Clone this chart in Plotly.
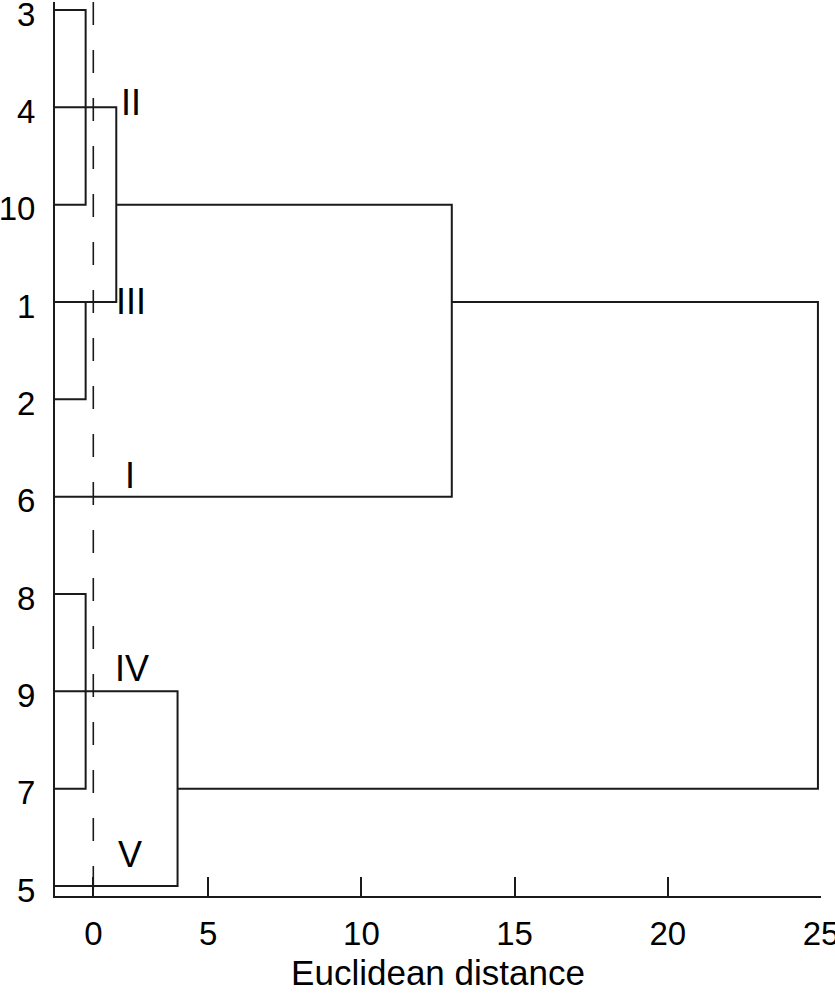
import plotly.graph_objects as go

# Leaves, top to bottom
leaves = ["3", "4", "10", "1", "2", "6", "8", "9", "7", "5"]

# Brackets of the dendrogram (rows are leaf indices, heights in distance units)
br_top_row = [0, 1, 3, 2, 3, 6, 7]
br_bot_row = [2, 3, 4, 5, 8, 8, 9]
br_height = [1.0, 2.0, 1.0, 12.95, 24.9, 1.0, 4.0]
br_top_start = [0, 0, 0, 2.0, 12.95, 0, 0]
br_bot_start = [0, 0, 0, 0, 4.0, 0, 0]

# Cluster labels
cl_names = ["II", "III", "I", "IV", "V"]
cl_x = [2.48, 2.48, 2.45, 2.5, 2.45]
cl_row = [0.955, 3.0, 4.78, 6.77, 8.68]

# X axis ticks
x_tickvals = [1.25, 5, 10, 15, 20, 25]
x_ticktext = ["0", "5", "10", "15", "20", "25"]
cut_x = 1.25

FONT = "Liberation Sans, Arial, Helvetica, sans-serif"
LINE = "#1a1a1a"

Y_TOP, Y_BOT = -0.082, 9.103

xs, ys = [], []
for t, b, h, ts, bs in zip(br_top_row, br_bot_row, br_height, br_top_start, br_bot_start):
    xs += [ts, h, h, bs, None]
    ys += [t, t, b, b, None]

fig = go.Figure()
fig.add_trace(go.Scatter(x=xs, y=ys, mode="lines",
                         line=dict(color=LINE, width=2),
                         hoverinfo="skip", showlegend=False))
fig.add_trace(go.Scatter(x=[cut_x, cut_x], y=[Y_TOP, Y_BOT], mode="lines",
                         line=dict(color=LINE, width=1.6, dash="23px,25px"),
                         hoverinfo="skip", showlegend=False))

for n, x, r in zip(cl_names, cl_x, cl_row):
    fig.add_annotation(x=x, y=r, text=n, showarrow=False,
                       xanchor="center", yanchor="middle",
                       font=dict(family=FONT, size=36, color="black"))

fig.update_layout(
    width=835, height=1000,
    margin=dict(l=55, r=14, t=2, b=104),
    plot_bgcolor="white", paper_bgcolor="white",
    font=dict(family=FONT, color="black"),
)
fig.update_xaxes(range=[0, 25], tickvals=x_tickvals, ticktext=x_ticktext,
                 ticks="inside", ticklen=19, tickwidth=2, tickcolor=LINE,
                 showline=True, linecolor=LINE, linewidth=2,
                 showgrid=False, zeroline=False, automargin=False,
                 ticklabeloverflow="allow",
                 tickfont=dict(size=33, family=FONT),
                 ticklabelstandoff=7,
                 title=dict(text="Euclidean distance", font=dict(size=35, family=FONT), standoff=10))
fig.update_yaxes(range=[Y_BOT, Y_TOP], tickvals=list(range(len(leaves))), ticktext=leaves,
                 ticks="", showline=True, linecolor=LINE, linewidth=2,
                 showgrid=False, zeroline=False, automargin=False,
                 ticklabeloverflow="allow", ticklabelshift=-4,
                 tickfont=dict(size=33, family=FONT),
                 ticklabelstandoff=11)

fig.write_html("out.html", config={"displayModeBar": False},
               post_script="document.body.style.margin='0';")
